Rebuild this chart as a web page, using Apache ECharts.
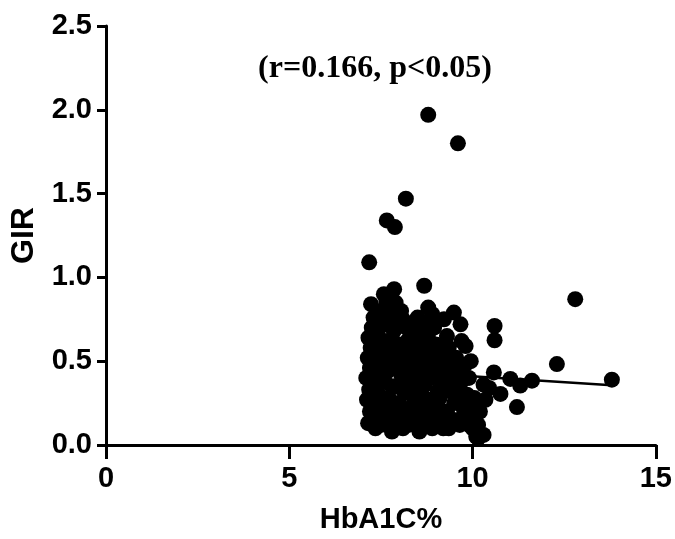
<!DOCTYPE html>
<html>
<head>
<meta charset="utf-8">
<script src="https://cdn.jsdelivr.net/npm/echarts@6/dist/echarts.min.js"></script>
<style>
  html, body { margin: 0; padding: 0; background: #fff; }
  #chart { width: 675px; height: 539px; }
</style>
</head>
<body>
<div id="chart"></div>
<script>
// HbA1C% (x) vs GIR (y), one entry per subject
const hba1c = [
  // main cluster, 7.0 - 7.8
  7.15, 7.20, 7.12, 7.18, 7.10, 7.20, 7.14, 7.22, 7.16, 7.25, 7.30, 7.23, 7.30, 7.35, 7.40, 7.32, 7.38, 7.42, 7.35,
  7.50, 7.55, 7.45, 7.60, 7.50, 7.58, 7.48, 7.62, 7.55, 7.58, 7.70, 7.72, 7.68, 7.75, 7.70, 7.78, 7.65, 7.80,
  7.25, 7.28, 7.45, 7.42, 7.60, 7.62,
  // 7.8 - 8.6
  7.86, 7.90, 7.95, 7.85, 8.00, 7.90, 8.05, 7.92, 8.00, 7.90, 8.10, 8.15, 8.12, 8.18, 8.10, 8.20, 8.05,
  8.25, 8.30, 8.35, 8.25, 8.40, 8.30, 8.45, 8.35, 8.50, 8.40, 8.55, 8.50, 8.60, 8.55, 8.60,
  7.80, 7.82, 7.85, 8.00, 8.05, 8.20, 8.22, 8.40, 8.45, 8.50, 8.60, 8.62, 8.30, 8.10, 8.45,
  // 8.6 - 9.5
  8.68, 8.79, 8.70, 8.65, 8.80, 8.70, 8.85, 8.70, 8.80, 8.65, 8.90, 8.95, 8.90, 9.00, 8.95,
  9.05, 9.10, 9.15, 9.10, 9.20, 9.22, 9.30, 9.25, 9.30, 9.35, 9.40, 9.40, 9.49, 9.45, 9.50,
  8.70, 8.78, 8.85, 8.95, 9.00, 9.05, 9.15, 9.20, 9.30, 9.35, 9.45, 8.90,
  // 9.5 - 10.3
  9.67, 9.81, 9.60, 9.70, 9.60, 9.75, 9.65, 9.85, 9.90, 9.95, 10.00, 10.10, 10.15, 10.20, 10.05, 9.80, 10.30, 10.15,
  9.55, 9.55, 9.70, 9.75, 9.85, 9.90, 10.00, 9.95, 9.70,
  // right arm
  10.60, 10.60, 10.58, 10.76, 11.03, 11.30, 11.62, 11.21, 12.30, 12.80, 13.80, 10.30, 10.45, 10.35,
  // high GIR values
  8.79, 9.60, 8.18, 7.66, 7.88, 7.18
];
const gir = [
  0.13, 0.20, 0.27, 0.33, 0.40, 0.46, 0.52, 0.58, 0.64, 0.70, 0.76, 0.84, 0.15, 0.25, 0.36, 0.43, 0.54, 0.66, 0.10,
  0.12, 0.20, 0.30, 0.38, 0.47, 0.56, 0.62, 0.72, 0.80, 0.90, 0.16, 0.28, 0.44, 0.52, 0.62, 0.78, 0.86, 0.08,
  0.30, 0.48, 0.42, 0.18, 0.27, 0.50,
  0.93, 0.85, 0.75, 0.68, 0.60, 0.50, 0.42, 0.35, 0.25, 0.15, 0.10, 0.20, 0.32, 0.48, 0.55, 0.70, 0.80,
  0.12, 0.22, 0.30, 0.40, 0.46, 0.55, 0.62, 0.70, 0.76, 0.14, 0.08, 0.26, 0.36, 0.50, 0.68,
  0.35, 0.22, 0.58, 0.45, 0.18, 0.38, 0.62, 0.33, 0.20, 0.43, 0.58, 0.20, 0.65, 0.75, 0.72,
  0.95, 0.82, 0.72, 0.60, 0.55, 0.45, 0.40, 0.28, 0.20, 0.12, 0.10, 0.25, 0.48, 0.60, 0.70,
  0.15, 0.28, 0.38, 0.50, 0.58, 0.75, 0.65, 0.45, 0.20, 0.10, 0.32, 0.52, 0.79, 0.42, 0.25,
  0.36, 0.65, 0.15, 0.55, 0.42, 0.32, 0.20, 0.10, 0.35, 0.58, 0.15, 0.78,
  0.72, 0.59, 0.46, 0.38, 0.30, 0.22, 0.12, 0.30, 0.40, 0.18, 0.10, 0.05, 0.12, 0.20, 0.28, 0.48, 0.06, 0.04,
  0.38, 0.52, 0.16, 0.30, 0.20, 0.12, 0.22, 0.50, 0.62,
  0.71, 0.625, 0.433, 0.305, 0.394, 0.355, 0.384, 0.226, 0.483, 0.87, 0.39, 0.36, 0.34, 0.27,
  1.97, 1.80, 1.47, 1.34, 1.30, 1.09
];

// fitted line end points
const fitX = [7.1, 13.8];
const fitY = [0.45, 0.357];

const xTicks = [0, 5, 10, 15];
const yTicks = [0.0, 0.5, 1.0, 1.5, 2.0, 2.5];

const points = hba1c.map((x, i) => [x, gir[i]]);
const fitLine = fitX.map((x, i) => [x, fitY[i]]);

const labelFont = {
  color: '#000',
  fontFamily: '"Liberation Sans", Arial, sans-serif',
  fontWeight: 'bold',
  fontSize: 29
};

const chart = echarts.init(document.getElementById('chart'), null, { renderer: 'canvas' });
chart.setOption({
  animation: false,
  backgroundColor: '#fff',
  title: {
    text: '(r=0.166, p<0.05)',
    left: 370,
    top: 48,
    textAlign: 'center',
    textStyle: {
      color: '#000',
      fontFamily: '"Liberation Serif", "Times New Roman", serif',
      fontWeight: 'bold',
      fontSize: 32
    }
  },
  grid: { left: 103, right: 17, top: 26, bottom: 91, containLabel: false },
  xAxis: {
    type: 'value',
    min: xTicks[0],
    max: xTicks[xTicks.length - 1],
    interval: 5,
    name: 'HbA1C%',
    nameLocation: 'middle',
    nameGap: 60,
    nameTextStyle: Object.assign({}, labelFont, { fontSize: 29 }),
    axisLine: { onZero: false, lineStyle: { color: '#000', width: 3 } },
    axisTick: { length: 14, lineStyle: { color: '#000', width: 3 } },
    axisLabel: Object.assign({}, labelFont, { margin: 19 }),
    splitLine: { show: false }
  },
  yAxis: {
    type: 'value',
    min: yTicks[0],
    max: yTicks[yTicks.length - 1],
    interval: 0.5,
    name: 'GIR',
    nameLocation: 'middle',
    nameGap: 66,
    nameRotate: 90,
    nameTextStyle: Object.assign({}, labelFont, { fontSize: 32 }),
    axisLine: { onZero: false, lineStyle: { color: '#000', width: 3 } },
    axisTick: { length: 9, lineStyle: { color: '#000', width: 3 } },
    axisLabel: Object.assign({}, labelFont, {
      margin: 14,
      formatter: v => v.toFixed(1)
    }),
    splitLine: { show: false }
  },
  series: [
    {
      type: 'scatter',
      data: points,
      symbol: 'circle',
      symbolSize: 16,
      itemStyle: { color: '#000', opacity: 1 },
      z: 2
    },
    {
      type: 'line',
      data: fitLine,
      symbol: 'none',
      lineStyle: { color: '#000', width: 2.5 },
      z: 3
    }
  ]
});
</script>
</body>
</html>
